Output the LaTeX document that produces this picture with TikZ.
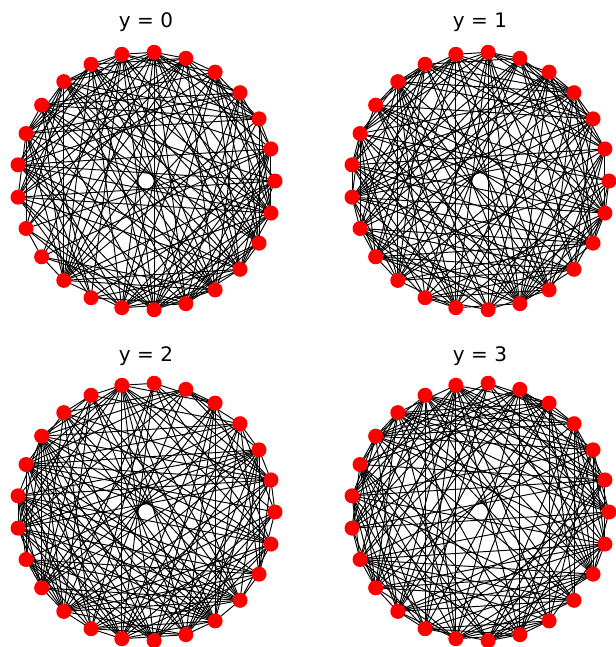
\documentclass[tikz,border=0pt]{standalone}
\usepackage{fontspec}
\setmainfont{DejaVu Sans}
\usepackage{tikz}
\usetikzlibrary{calc,backgrounds}

\tikzset{
  vertex/.style={circle,fill=red,inner sep=0pt,minimum size=15pt},
  edge/.style={black,line width=0.95pt},
  paneltitle/.style={font=\fontsize{20}{24}\selectfont,inner sep=0pt}
}

\begin{document}
\begin{tikzpicture}[x=1pt,y=-1pt]
\useasboundingbox (0,0) rectangle (615,647);
\foreach \g/\cx/\cy/\ty/\lab/\seed in {A/146/181/22/0/11,B/480/181/22/1/23,C/146/512/356/2/37,D/480/512/356/3/41}{
  \node[paneltitle] (t\g) at (\cx,\ty) {y = \lab};
  \foreach \k in {0,...,24}
    \node[vertex] (\g\k) at ($(\cx,\cy)+(\k*14.4:129)$) {};
  \pgfmathsetseed{\seed}
  \begin{pgfonlayer}{background}
  \foreach \i in {0,...,23}{
    \pgfmathtruncatemacro\nxt{\i+1}
    \foreach \j in {\nxt,...,24}{
      \pgfmathtruncatemacro\pick{rnd<0.52}
      \ifnum\pick=1 \draw[edge] (\g\i.center) -- (\g\j.center); \fi
    }
  }
  \end{pgfonlayer}
}
\end{tikzpicture}
\end{document}
